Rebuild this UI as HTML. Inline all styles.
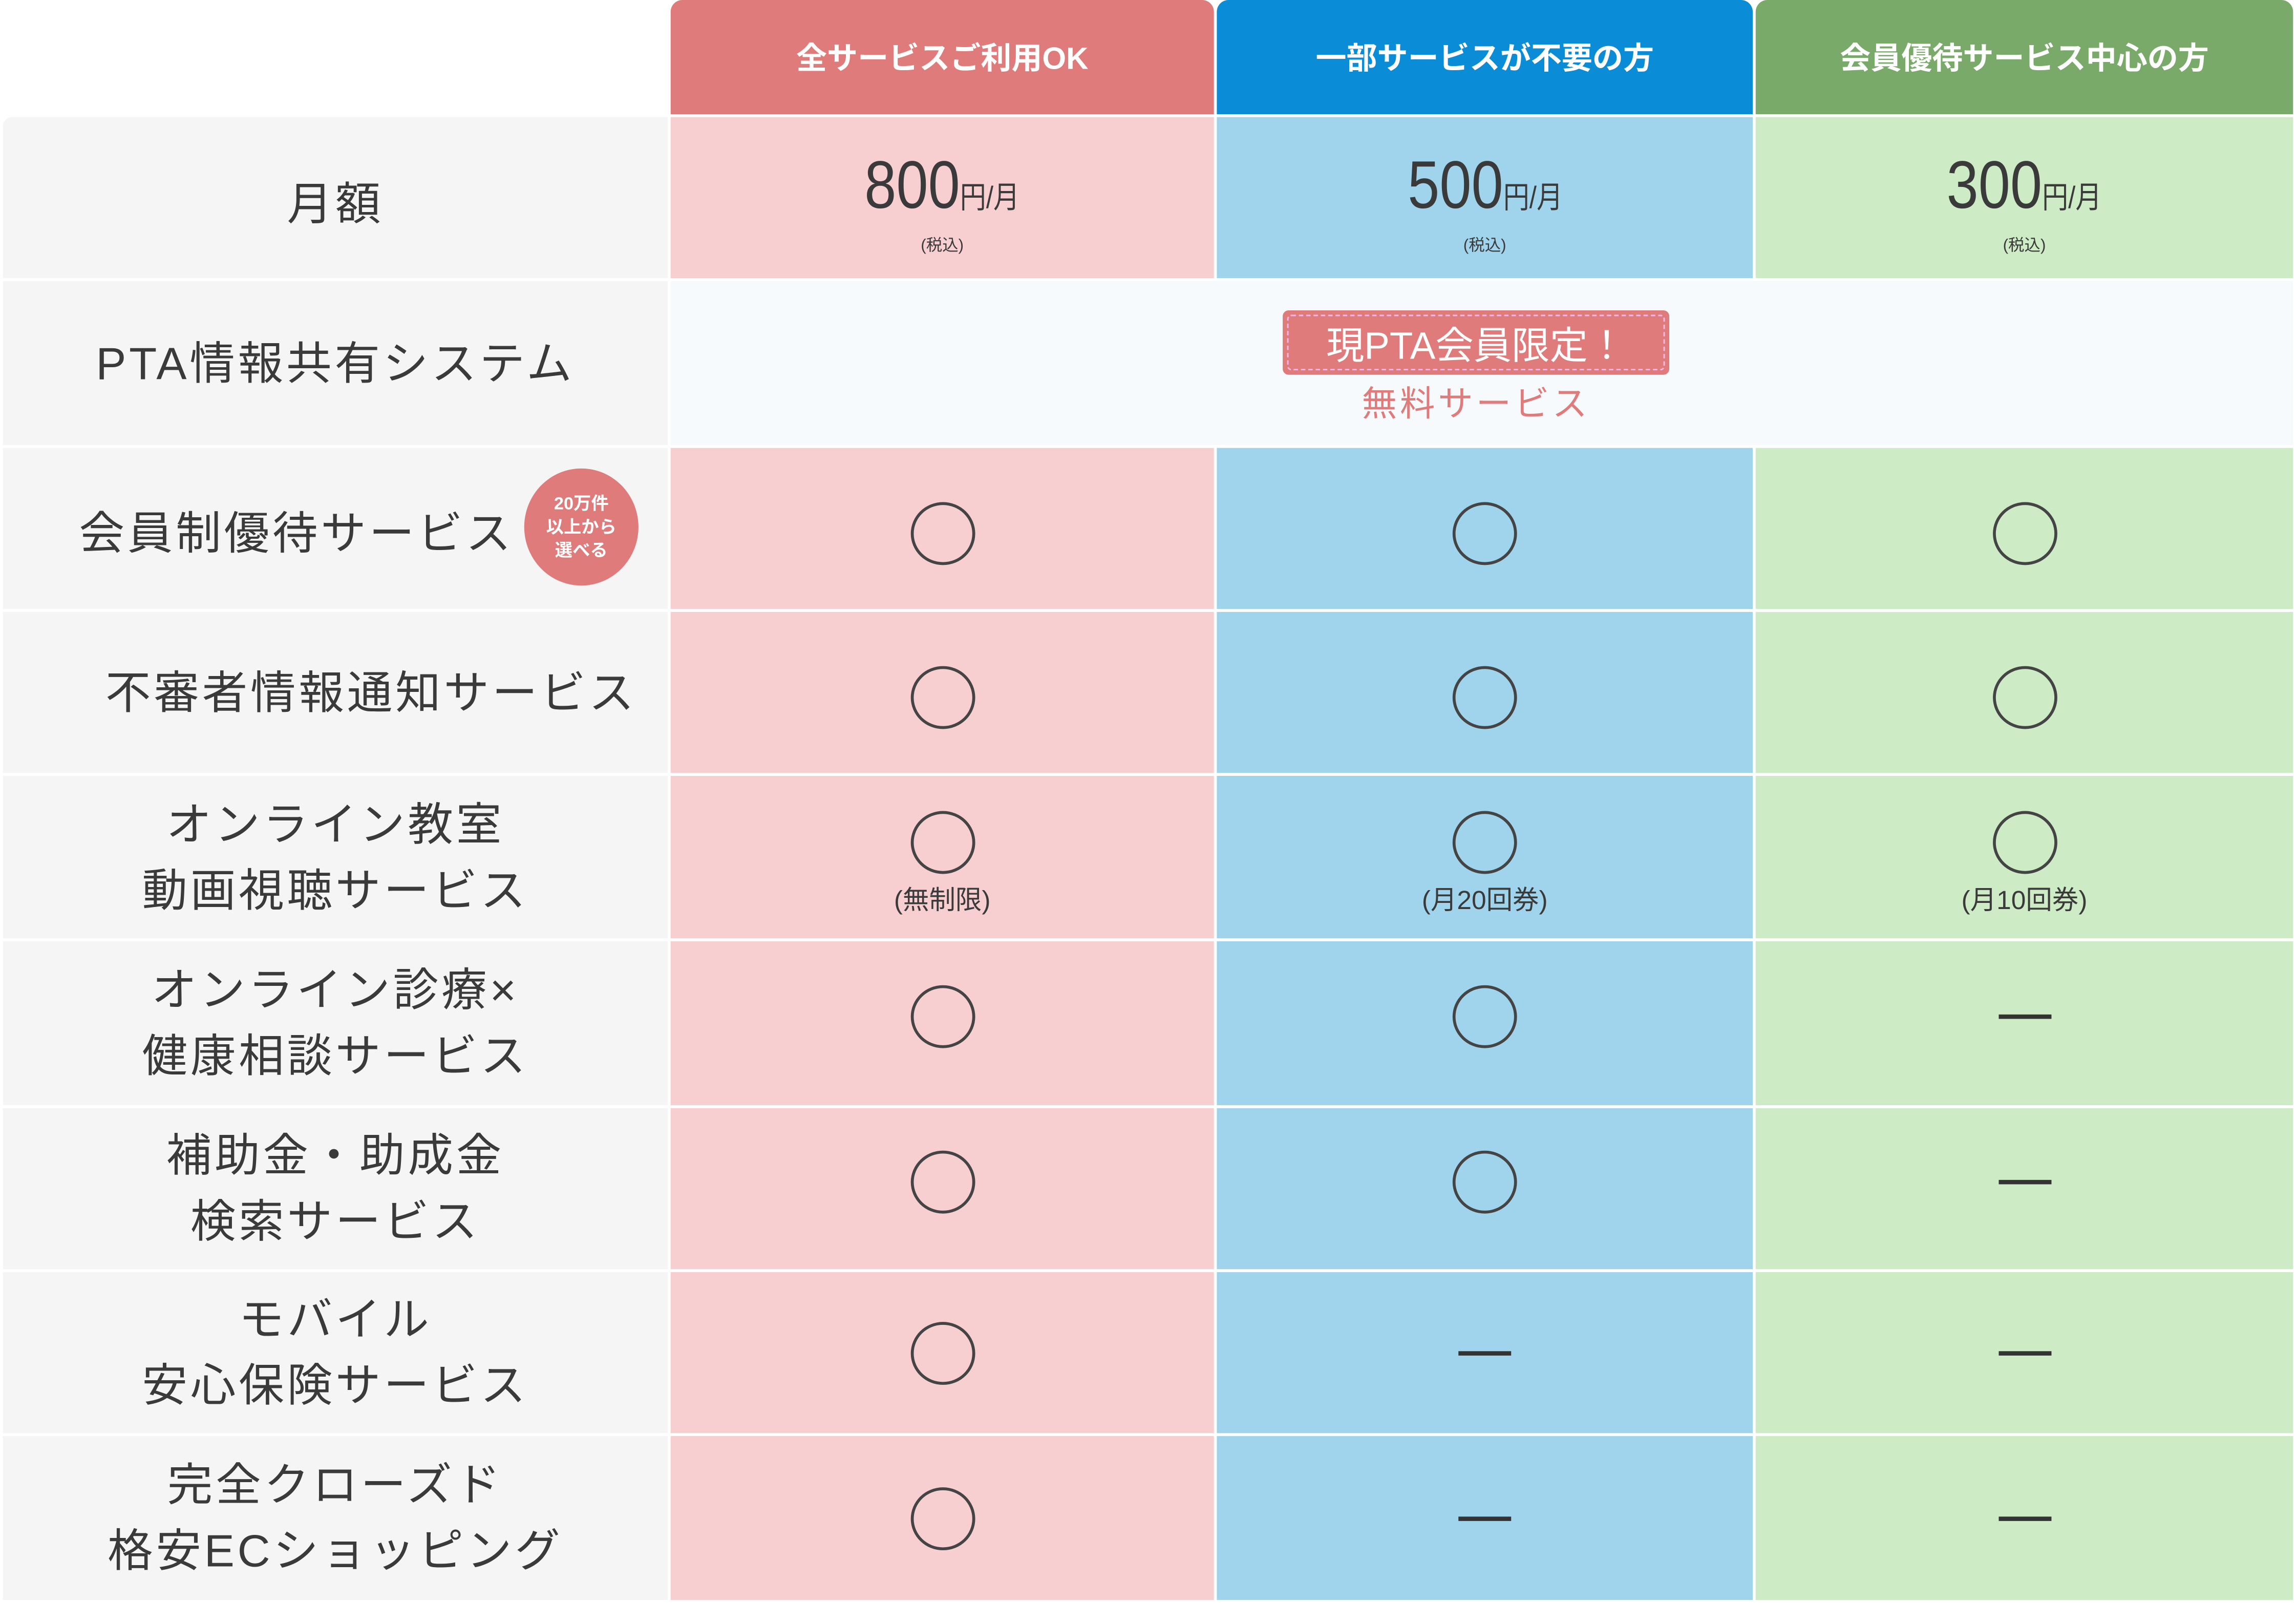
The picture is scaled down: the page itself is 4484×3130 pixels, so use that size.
<!DOCTYPE html>
<html><head><meta charset="utf-8"><style>
html,body{margin:0;padding:0;background:#fff;}
body{width:4484px;height:3130px;overflow:hidden;}
#w{width:1568px;height:1095px;position:relative;transform:scale(2.8597,2.8584);transform-origin:0 0;font-family:"Liberation Sans","Noto Sans CJK JP",sans-serif;color:#3a3a3a;}
.a{position:absolute;box-sizing:border-box;}
.h{color:#fff;font-size:21px;font-weight:bold;display:flex;align-items:center;justify-content:center;border-radius:8px 8px 0 0;top:0;height:78px;}
.lab{left:2px;width:454px;background:#f5f5f5;display:flex;align-items:center;justify-content:center;text-align:center;font-size:31px;letter-spacing:2px;line-height:45px;}
.c{display:flex;flex-direction:column;align-items:center;justify-content:center;}
.p{background:#f8cfd1;left:458px;width:371px;}
.b{background:#a0d4ec;left:831px;width:366px;}
.g{background:#cdebc4;left:1199px;width:367px;}
.o{width:40px;height:39px;border:2.2px solid #444;border-radius:50%;}
.m{padding-top:6px;}
.n{padding-bottom:10px;}
.d{width:36px;height:3px;background:#333;}
.pr{font-size:46px;line-height:46px;transform:scaleX(.85);margin-top:8px;}
.pr span{font-size:21px;}
.tx{font-size:11px;margin-top:0px;}
.sm{font-size:18px;margin-top:4px;}
</style></head><body><div id="w">
<div class="a h" style="left:458px;width:371px;background:#e07b7b">全サービスご利用OK</div>
<div class="a h" style="left:831px;width:366px;background:#0a8dd6">一部サービスが不要の方</div>
<div class="a h" style="left:1199px;width:367px;background:#79aa69">会員優待サービス中心の方</div>

<div class="a lab" style="top:80px;height:110px;border-radius:6px 0 0 0;padding-top:8px">月額</div>
<div class="a c p" style="top:80px;height:110px"><div class="pr">800<span>円/月</span></div><div class="tx">(税込)</div></div>
<div class="a c b" style="top:80px;height:110px"><div class="pr">500<span>円/月</span></div><div class="tx">(税込)</div></div>
<div class="a c g" style="top:80px;height:110px"><div class="pr">300<span>円/月</span></div><div class="tx">(税込)</div></div>

<div class="a lab" style="top:192px;height:112px">PTA情報共有システム</div>
<div class="a" style="top:192px;left:458px;width:1108px;height:112px;background:#f6fafd"></div>
<div class="a" style="top:212px;left:876px;width:264px;height:44px;background:#e07b7b;border-radius:4px;padding:3px"><div style="border:1px dashed #fbe;height:36px;border-radius:3px;color:#fff;font-size:26px;display:flex;align-items:center;justify-content:center">現PTA会員限定！</div></div>
<div class="a" style="top:256px;left:876px;width:264px;text-align:center;color:#e07b7b;font-size:24px;letter-spacing:2px">無料サービス</div>

<div class="a lab" style="top:306px;height:110px;justify-content:flex-start;padding-left:52px;padding-top:6px">会員制優待サービス</div>
<div class="a c" style="top:320px;left:358px;width:78px;height:80px;border-radius:50%;background:#e07b7b;color:#fff;font-size:12px;font-weight:bold;line-height:16px;letter-spacing:0;text-align:center">20万件<br>以上から<br>選べる</div>
<div class="a c p m" style="top:306px;height:110px"><div class="o"></div></div>
<div class="a c b m" style="top:306px;height:110px"><div class="o"></div></div>
<div class="a c g m" style="top:306px;height:110px"><div class="o"></div></div>

<div class="a lab" style="top:418px;height:110px;justify-content:flex-start;padding-left:70px">不審者情報通知サービス</div>
<div class="a c p m" style="top:418px;height:110px"><div class="o"></div></div>
<div class="a c b m" style="top:418px;height:110px"><div class="o"></div></div>
<div class="a c g m" style="top:418px;height:110px"><div class="o"></div></div>

<div class="a lab" style="top:530px;height:111px">オンライン教室<br>動画視聴サービス</div>
<div class="a c p" style="top:530px;height:111px;padding-top:10px"><div class="o"></div><div class="sm">(無制限)</div></div>
<div class="a c b" style="top:530px;height:111px;padding-top:10px"><div class="o"></div><div class="sm">(月20回券)</div></div>
<div class="a c g" style="top:530px;height:111px;padding-top:10px"><div class="o"></div><div class="sm">(月10回券)</div></div>

<div class="a lab" style="top:643px;height:112px">オンライン診療×<br>健康相談サービス</div>
<div class="a c p n" style="top:643px;height:112px"><div class="o"></div></div>
<div class="a c b n" style="top:643px;height:112px"><div class="o"></div></div>
<div class="a c g n" style="top:643px;height:112px"><div class="d"></div></div>

<div class="a lab" style="top:757px;height:110px">補助金・助成金<br>検索サービス</div>
<div class="a c p n" style="top:757px;height:110px"><div class="o"></div></div>
<div class="a c b n" style="top:757px;height:110px"><div class="o"></div></div>
<div class="a c g n" style="top:757px;height:110px"><div class="d"></div></div>

<div class="a lab" style="top:869px;height:110px">モバイル<br>安心保険サービス</div>
<div class="a c p" style="top:869px;height:110px"><div class="o"></div></div>
<div class="a c b" style="top:869px;height:110px"><div class="d"></div></div>
<div class="a c g" style="top:869px;height:110px"><div class="d"></div></div>

<div class="a lab" style="top:981px;height:112px">完全クローズド<br>格安ECショッピング</div>
<div class="a c p" style="top:981px;height:112px"><div class="o"></div></div>
<div class="a c b" style="top:981px;height:112px"><div class="d"></div></div>
<div class="a c g" style="top:981px;height:112px"><div class="d"></div></div>
</div></body></html>
